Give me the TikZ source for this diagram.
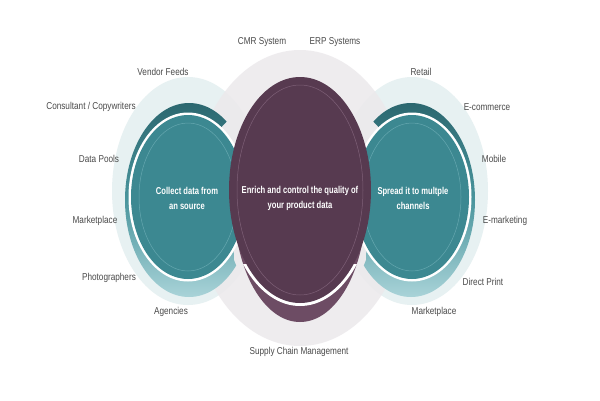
\documentclass[tikz,border=0pt]{standalone}
\usepackage{fontspec}
\setmainfont{Liberation Sans}[FakeStretch=0.82, BoldFeatures={FakeStretch=0.76}]
\definecolor{halo}{HTML}{E7F1F2}
\definecolor{greyc}{HTML}{ECE9EC}
\definecolor{ringtop}{HTML}{2C6870}
\definecolor{ringmid}{HTML}{4A959D}
\definecolor{ringbot}{HTML}{A9D3D8}
\definecolor{tealbody}{HTML}{3C8891}
\definecolor{tealline}{HTML}{65A7AF}
\definecolor{pbody}{HTML}{573A50}
\definecolor{pline}{HTML}{7E6077}
\definecolor{pband}{HTML}{6D4C64}
\definecolor{labelc}{HTML}{4A4A4A}
\begin{document}
\begin{tikzpicture}[x=1pt,y=-1pt,
  lbl/.style={text=labelc, font=\fontsize{10}{12}\selectfont, inner sep=0pt},
  intext/.style={text=white, font=\fontsize{10}{15}\selectfont\bfseries, align=center, inner sep=0pt},
  ringshade/.style={top color=ringtop, bottom color=ringbot, middle color=ringmid}]
\fill[white] (0,0) rectangle (600,400);
\useasboundingbox (0,0) rectangle (600,400);
% halos
\fill[halo] (188,191) ellipse [x radius=76, y radius=114];
\fill[halo] (412,191) ellipse [x radius=76, y radius=114];
% central grey
\fill[greyc, opacity=0.85] (300,198) ellipse [x radius=108, y radius=148];
% rings
\begin{scope}
\clip (80,40) -- (230,40) -- (230,118) -- (214,135) -- (230,150) -- (234,260) -- (250,300) -- (250,340) -- (80,340) -- cycle;
\shade[ringshade] (189,200) ellipse [x radius=64, y radius=97];
\end{scope}
\begin{scope}
\clip (520,40) -- (370,40) -- (370,118) -- (386,135) -- (370,150) -- (366,260) -- (350,300) -- (350,340) -- (520,340) -- cycle;
\shade[ringshade] (411,200) ellipse [x radius=64, y radius=97];
\end{scope}
% white gaps
\fill[white] (188,197) ellipse [x radius=59.5, y radius=84.5];
\fill[white] (412,197) ellipse [x radius=59.5, y radius=84.5];
% teal bodies
\fill[tealbody] (188,197) ellipse [x radius=57, y radius=82];
\draw[tealline, line width=0.5pt] (188,197) ellipse [x radius=49, y radius=74];
\fill[tealbody] (412,197) ellipse [x radius=57, y radius=82];
\draw[tealline, line width=0.5pt] (412,197) ellipse [x radius=49, y radius=74];
% purple band
\fill[pband] (300,205) ellipse [x radius=65.8, y radius=117];
\begin{scope}
\clip (200,264) rectangle (400,340);
\fill[white] (300,190) ellipse [x radius=74, y radius=116];
\end{scope}
% purple body
\fill[pbody] (300,190) ellipse [x radius=71, y radius=113];
\draw[pline, line width=0.5pt] (300,190) ellipse [x radius=63, y radius=105];
% inner texts
\node[intext] (collect) at (187,198) {Collect data from\\an source};
\node[intext] (enrich) at (300,198) {Enrich and control the quality of\\your product data};
\node[intext] (spread) at (413,198) {Spread it to multple\\channels};
% labels left
\node[lbl] (vendor) at (163,72) {Vendor Feeds};
\node[lbl] (consult) at (91,107) {Consultant / Copywriters};
\node[lbl] (pools) at (99,159) {Data Pools};
\node[lbl] (market1) at (95,221) {Marketplace};
\node[lbl] (photo) at (109,278) {Photographers};
\node[lbl] (agencies) at (171,312) {Agencies};
% labels centre
\node[lbl] (cmr) at (262,42) {CMR System};
\node[lbl] (erp) at (335,42) {ERP Systems};
\node[lbl] (supply) at (299,352) {Supply Chain Management};
% labels right
\node[lbl] (retail) at (421,72) {Retail};
\node[lbl] (ecom) at (487,107) {E-commerce};
\node[lbl] (mobile) at (494,159) {Mobile};
\node[lbl] (emark) at (505,221) {E-marketing};
\node[lbl] (direct) at (483,282) {Direct Print};
\node[lbl] (market2) at (434,312) {Marketplace};
\end{tikzpicture}
\end{document}
